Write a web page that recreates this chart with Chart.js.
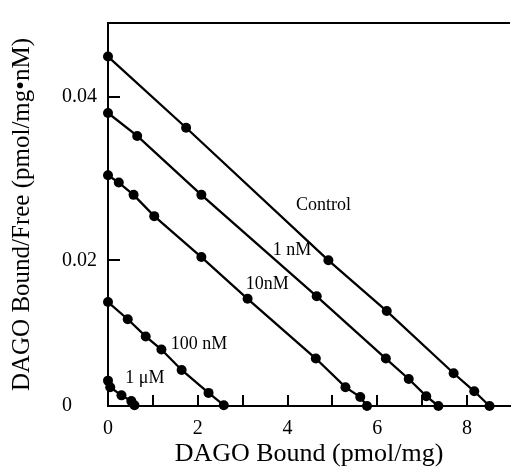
<!DOCTYPE html>
<html>
<head>
<meta charset="utf-8">
<script src="https://cdn.jsdelivr.net/npm/chart.js@4/dist/chart.umd.min.js"></script>
<style>
  body { margin: 0; background: #fff; }
  #wrap { width: 515px; height: 473px; }
</style>
</head>
<body>
<div id="wrap"><canvas id="scatchard" width="515" height="473"></canvas></div>
<script>
// DAGO bound (pmol/mg) vs bound/free (pmol/mg·nM) for each condition
const controlX = [0, 1.74, 4.91, 6.21, 7.70, 8.16, 8.50];
const controlY = [0.0449, 0.0362, 0.0200, 0.0138, 0.0062, 0.0040, 0.0022];

const nM1X = [0, 0.65, 2.08, 4.65, 6.19, 6.70, 7.09, 7.36];
const nM1Y = [0.0380, 0.0352, 0.0280, 0.0156, 0.0080, 0.0055, 0.0034, 0.0022];

const nM10X = [0, 0.24, 0.57, 1.03, 2.08, 3.11, 4.63, 5.29, 5.62, 5.77];
const nM10Y = [0.0304, 0.0295, 0.0280, 0.0254, 0.0204, 0.0153, 0.0080, 0.0045, 0.0033, 0.0022];

const nM100X = [0, 0.44, 0.84, 1.19, 1.64, 2.24, 2.58];
const nM100Y = [0.0149, 0.0128, 0.0107, 0.0091, 0.0066, 0.0038, 0.0023];

const uM1X = [0, 0.05, 0.30, 0.52, 0.59];
const uM1Y = [0.0053, 0.0045, 0.0035, 0.0028, 0.0023];

const seriesNames = ['Control', '1 nM', '10nM', '100 nM', '1 μM'];
// where each series name sits, in data units
const nameX = [4.80, 4.10, 3.55, 2.03, 0.82];
const nameY = [0.0267, 0.0212, 0.0171, 0.0098, 0.0056];

const xTicks = [0, 1, 2, 3, 4, 5, 6, 7, 8];
const yMin = 0.0022;
const yTicks = [yMin, 0.02, 0.04];

function toPoints(xs, ys) {
    return xs.map((x, i) => ({ x: x, y: ys[i] }));
}

const serif = '"Liberation Serif", "Times New Roman", serif';

const series = [
    toPoints(controlX, controlY),
    toPoints(nM1X, nM1Y),
    toPoints(nM10X, nM10Y),
    toPoints(nM100X, nM100Y),
    toPoints(uM1X, uM1Y)
];

const datasets = series.map((pts, i) => ({
    label: seriesNames[i],
    data: pts,
    showLine: true,
    borderColor: '#000',
    borderWidth: 2.3,
    backgroundColor: '#000',
    pointRadius: 5,
    pointBorderWidth: 0,
    tension: 0,
    clip: false
}));

// inward tick marks, the top frame line and the series names
const framePlugin = {
    id: 'frame',
    beforeDatasetsDraw(chart) {
        const ctx = chart.ctx;
        const area = chart.chartArea;
        const xs = chart.scales.x;
        const ys = chart.scales.y;
        ctx.save();
        ctx.strokeStyle = '#000';
        ctx.lineWidth = 2;
        ctx.beginPath();
        ctx.moveTo(area.left - 1, area.top);
        ctx.lineTo(area.right, area.top);
        xs.ticks.forEach(t => {
            if (t.value === 0) return;
            const px = Math.round(xs.getPixelForValue(t.value));
            ctx.moveTo(px, area.bottom);
            ctx.lineTo(px, area.bottom - 11);
        });
        ys.ticks.forEach(t => {
            if (t.value === yMin) return;
            const py = Math.round(ys.getPixelForValue(t.value));
            ctx.moveTo(area.left, py);
            ctx.lineTo(area.left + 12, py);
        });
        ctx.stroke();
        ctx.restore();
    },
    afterDatasetsDraw(chart) {
        const ctx = chart.ctx;
        const xs = chart.scales.x;
        const ys = chart.scales.y;
        ctx.save();
        ctx.fillStyle = '#000';
        ctx.font = '18px ' + serif;
        ctx.textAlign = 'center';
        ctx.textBaseline = 'middle';
        seriesNames.forEach((name, i) => {
            ctx.fillText(name, xs.getPixelForValue(nameX[i]), ys.getPixelForValue(nameY[i]));
        });
        ctx.restore();
    }
};

new Chart(document.getElementById('scatchard').getContext('2d'), {
    type: 'scatter',
    data: { datasets: datasets },
    options: {
        responsive: false,
        animation: false,
        layout: { padding: { top: 13, right: 0, left: 0, bottom: 0 } },
        plugins: {
            legend: { display: false },
            tooltip: { enabled: false }
        },
        scales: {
            x: {
                type: 'linear',
                min: 0,
                max: 8.956,
                afterBuildTicks: scale => { scale.ticks = xTicks.map(v => ({ value: v })); },
                afterFit: scale => { scale.height = 67; },
                grid: { display: false, drawTicks: false },
                border: { display: true, color: '#000', width: 2 },
                ticks: {
                    autoSkip: false,
                    maxRotation: 0,
                    padding: 11,
                    color: '#000',
                    font: { family: serif, size: 20 },
                    callback: v => (v % 2 === 0 ? String(v) : '')
                },
                title: {
                    display: true,
                    text: 'DAGO Bound (pmol/mg)',
                    color: '#000',
                    font: { family: serif, size: 26 },
                    padding: { top: 0, bottom: 3 }
                }
            },
            y: {
                type: 'linear',
                min: yMin,
                max: 0.049,
                afterBuildTicks: scale => { scale.ticks = yTicks.map(v => ({ value: v })); },
                afterFit: scale => { scale.width = 108; },
                grid: { display: false, drawTicks: false },
                border: { display: true, color: '#000', width: 2 },
                ticks: {
                    padding: 11,
                    color: '#000',
                    font: { family: serif, size: 20 },
                    // the baseline label lines up on the left with the others
                    callback: v => (v === yMin ? '0' + ' '.repeat(5) : v.toFixed(2))
                },
                title: {
                    display: true,
                    text: 'DAGO Bound/Free (pmol/mg•nM)',
                    color: '#000',
                    font: { family: serif, size: 25 },
                    padding: { top: 7, bottom: 0 }
                }
            }
        }
    },
    plugins: [framePlugin]
});
</script>
</body>
</html>
